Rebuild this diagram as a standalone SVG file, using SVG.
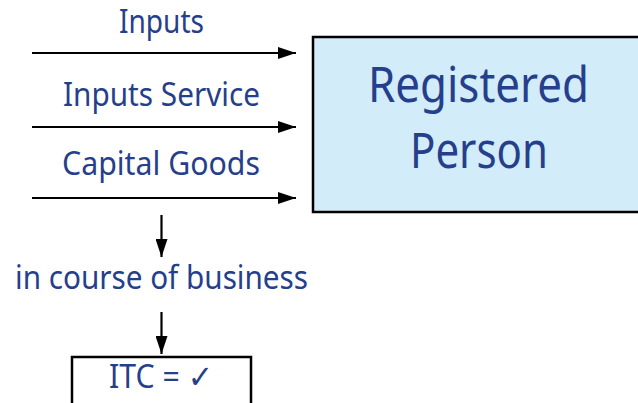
<svg xmlns="http://www.w3.org/2000/svg" width="638" height="403" viewBox="0 0 638 403">
<style>
.t{font-family:"Noto Sans","Open Sans","DejaVu Sans",sans-serif;fill:#263f8c;text-anchor:middle}
.s{font-size:32px}
.b{font-size:49px}
.ln{stroke:#000;stroke-width:2.2;fill:none}
.bx{stroke:#000;stroke-width:2.5}
</style>
<defs>
<marker id="ah" markerWidth="18" markerHeight="12" refX="18" refY="6" orient="auto" markerUnits="userSpaceOnUse">
<path d="M0,0 L18,6 L0,12 Z" fill="#000"/>
</marker>
</defs>
<g id="registered-person">
<rect class="bx" x="313" y="37" width="340" height="175" fill="#d2ecf9"/>
<text class="t b" x="478.5" y="102" textLength="221" lengthAdjust="spacingAndGlyphs">Registered</text>
<text class="t b" x="479" y="168" textLength="138" lengthAdjust="spacingAndGlyphs">Person</text>
</g>
<g id="label-inputs"><text class="t s" x="161.5" y="33" textLength="85" lengthAdjust="spacingAndGlyphs">Inputs</text></g>
<g id="label-inputs-service"><text class="t s" x="161.5" y="106" textLength="197" lengthAdjust="spacingAndGlyphs">Inputs Service</text></g>
<g id="label-capital-goods"><text class="t s" x="161" y="175" textLength="198" lengthAdjust="spacingAndGlyphs">Capital Goods</text></g>
<g id="label-course"><text class="t s" x="161.5" y="289" textLength="293" lengthAdjust="spacingAndGlyphs">in course of business</text></g>
<g id="itc">
<rect class="bx" x="72" y="357" width="179" height="60" fill="#fff"/>
<text class="t s" x="161" y="388" textLength="104" lengthAdjust="spacingAndGlyphs">ITC = ✓</text>
</g>
<g id="connectors">
<line class="ln" x1="32" y1="53" x2="296" y2="53" marker-end="url(#ah)"/>
<line class="ln" x1="32" y1="127" x2="296" y2="127" marker-end="url(#ah)"/>
<line class="ln" x1="32" y1="198" x2="296" y2="198" marker-end="url(#ah)"/>
<line class="ln" x1="161.5" y1="215" x2="161.5" y2="257" marker-end="url(#ah)"/>
<line class="ln" x1="161.5" y1="312" x2="161.5" y2="354" marker-end="url(#ah)"/>
</g>
</svg>
